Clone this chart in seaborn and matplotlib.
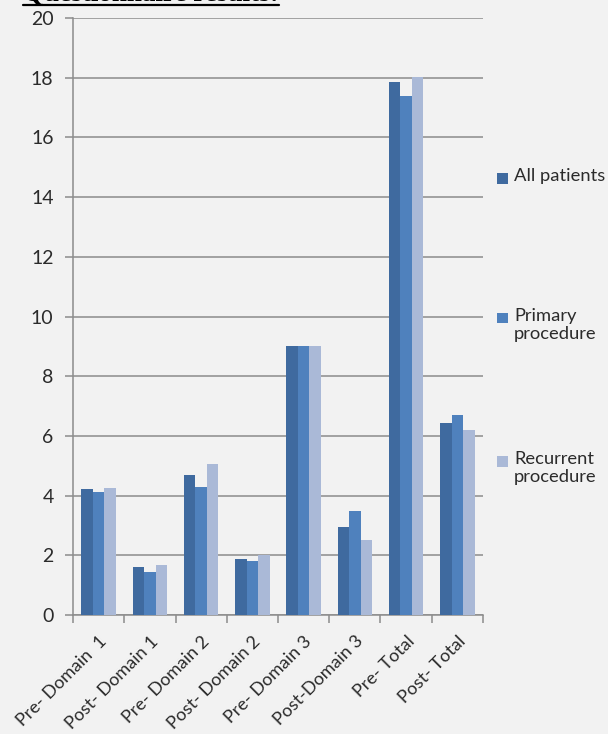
import matplotlib
matplotlib.use("Agg")
import matplotlib.pyplot as plt
from matplotlib.lines import Line2D
from matplotlib.patches import Rectangle
import seaborn as sns
import pandas as pd

# Questionnaire scores per domain, before and after the procedure
categories = ["Pre- Domain  1", "Post- Domain 1", "Pre- Domain 2", "Post- Domain 2",
              "Pre- Domain 3", "Post-Domain 3", "Pre- Total", "Post- Total"]
series = ["All patients", "Primary\nprocedure", "Recurrent\nprocedure"]
all_patients = [4.21, 1.60, 4.68, 1.89, 9.0, 2.96, 17.86, 6.44]
primary = [4.12, 1.45, 4.29, 1.80, 9.0, 3.48, 17.39, 6.70]
recurrent = [4.24, 1.67, 5.07, 2.01, 9.0, 2.50, 18.02, 6.19]
colors = ["#3F6A9F", "#4F81BD", "#AAB9D7"]

df = pd.DataFrame({
    "category": categories * 3,
    "series": [s for s in series for _ in categories],
    "score": all_patients + primary + recurrent,
})

BG = "#F2F2F2"
GRID = "#8C8C8C"
TEXT = "#2B2B2B"
FONT = "Lato"

sns.set_theme(style="white")
plt.rcParams["font.family"] = [FONT, "DejaVu Sans"]

fig = plt.figure(figsize=(6.08, 7.34), dpi=100, facecolor=BG)
ax = fig.add_axes([73 / 608, 1 - 615 / 734, 410 / 608, 597 / 734])
ax.set_facecolor(BG)

sns.barplot(data=df, x="category", y="score", hue="series", order=categories,
            hue_order=series, palette=colors, saturation=1, width=0.67,
            linewidth=0, ax=ax, legend=False, zorder=3)

ax.set_ylim(0, 20)
ax.set_xlim(-0.5, len(categories) - 0.5)
ax.set_yticks(range(0, 21, 2))
ax.yaxis.grid(True, color=GRID, linewidth=1.1, zorder=0)
ax.set_axisbelow(True)
ax.set_xlabel("")
ax.set_ylabel("")

for side in ("top", "right"):
    ax.spines[side].set_visible(False)
for side in ("left", "bottom"):
    ax.spines[side].set_color(GRID)
    ax.spines[side].set_linewidth(1.1)

ax.tick_params(axis="y", length=6, width=1.1, color=GRID, labelsize=14,
               labelcolor=TEXT, pad=8, left=True)
ax.tick_params(axis="x", which="major", length=0, labelsize=13,
               labelcolor=TEXT, pad=13)
ax.set_xticks([i - 0.5 for i in range(len(categories) + 1)], minor=True)
ax.tick_params(axis="x", which="minor", length=6, width=1.1, color=GRID, bottom=True)
for lab in ax.get_xticklabels():
    lab.set_rotation(45)
    lab.set_ha("right")
    lab.set_rotation_mode("anchor")

# Legend entries stacked on the right
W, H = 608, 734
legend_y = [178, 318, 461]
for name, col, yc in zip(series, colors, legend_y):
    fig.add_artist(Rectangle((497 / W, 1 - (yc + 5.5) / H), 11 / W, 11 / H,
                             transform=fig.transFigure, facecolor=col,
                             edgecolor="none"))
    fig.text(514 / W, 1 - (yc - 10) / H, name, fontsize=13.2, color=TEXT,
             va="top", ha="left", linespacing=1.15)

# Section heading, mostly above the top edge
fig.text(-6 / W, 1 - 0.5 / H, "1.", fontsize=19.5, fontweight="bold",
         family="Liberation Serif", va="baseline", ha="left", color="black")
fig.text(23 / W, 1 - 0.5 / H, "Questionnaire results:", fontsize=19.5,
         fontweight="bold", family="Liberation Serif", va="baseline",
         ha="left", color="black")
fig.add_artist(Line2D([23 / W, 279 / W], [1 - 4.5 / H, 1 - 4.5 / H],
                      transform=fig.transFigure, color="black", linewidth=1.6))

fig.savefig("out.png", dpi=100, facecolor=BG)
